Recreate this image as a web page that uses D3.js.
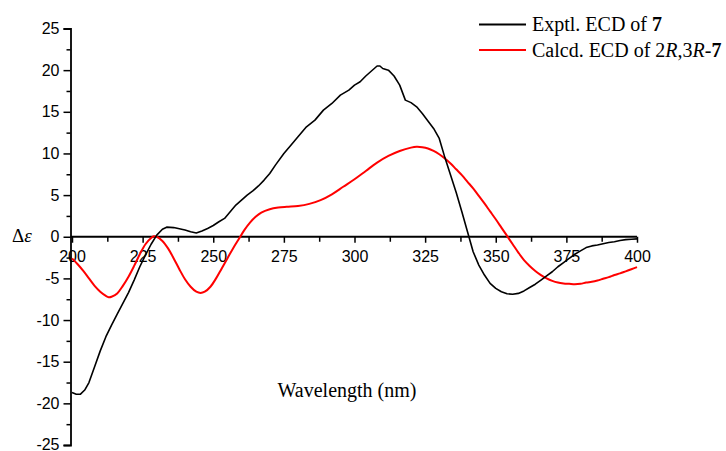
<!DOCTYPE html>
<html>
<head>
<meta charset="utf-8">
<script src="https://cdn.jsdelivr.net/npm/d3@7"></script>
<style>
html,body{margin:0;padding:0;background:#fff;}
svg{display:block;}
</style>
</head>
<body>
<svg id="chart" width="726" height="451"></svg>
<script>
// ---- data ----
const exptWavelength = [200,201.5,203,204.5,206,208,210,212,214,216,218,220,222,224,226,228,230,232,233.5,236,238,240,242,244,246,248,250,252,254,256,258,260,262,264,266,268,270,272,275,278,280,283,286,289,292,295,298,300,302,304,306,308,309,310,312,314,316,318,320,322,324,326,328,330,332,334,336,338,340,342,344,346,348,350,352,354,356,358,360,362,364,366,368,370,372,374,376,378,380,382,384,386,388,390,392,394,396,398,400];
const exptValues = [-18.7,-18.9,-18.9,-18.4,-17.5,-15.6,-13.7,-12.0,-10.6,-9.3,-8.0,-6.7,-5.2,-3.6,-2.2,-0.9,0.2,0.9,1.15,1.1,0.95,0.8,0.6,0.45,0.7,1.0,1.35,1.8,2.2,3.0,3.8,4.4,5.0,5.5,6.1,6.8,7.6,8.6,10.0,11.2,12.0,13.2,14.0,15.2,16.0,17.0,17.6,18.2,18.6,19.3,19.9,20.5,20.5,20.2,20.0,19.3,18.2,16.4,16.1,15.6,14.8,13.9,13.0,11.8,9.5,7.4,5.3,3.0,0.6,-1.8,-3.4,-4.6,-5.6,-6.2,-6.6,-6.85,-6.9,-6.8,-6.5,-6.1,-5.7,-5.2,-4.7,-4.2,-3.6,-3.1,-2.6,-2.1,-1.7,-1.3,-1.1,-1.0,-0.85,-0.7,-0.6,-0.45,-0.35,-0.3,-0.25];

const calcWavelength = [200,202,204,206,208,210,212,213,214,216,218,220,222,224,226,228,229,230,232,234,236,238,240,242,244,245.5,247,249,251,253,255,257,259,261,263,265,267,270,273,276,280,284,288,292,296,300,304,308,312,316,320,322,324,326,328,330,332,334,336,338,340,342,344,346,348,350,352,354,356,358,360,362,364,366,368,370,372,374,376,378,380,382,384,386,388,390,392,394,396,398,400];
const calcValues = [-2.6,-3.3,-4.1,-5.0,-5.9,-6.6,-7.1,-7.25,-7.2,-6.8,-5.9,-4.8,-3.5,-2.1,-0.9,-0.15,0.05,0.0,-0.5,-1.4,-2.6,-3.9,-5.1,-6.0,-6.6,-6.75,-6.6,-6.0,-5.0,-3.8,-2.6,-1.4,-0.3,0.8,1.7,2.4,2.9,3.3,3.5,3.6,3.7,3.95,4.4,5.1,6.0,6.9,7.9,8.9,9.7,10.3,10.7,10.8,10.75,10.6,10.3,9.9,9.4,8.8,8.1,7.4,6.6,5.8,4.9,4.0,3.05,2.1,1.1,0.1,-0.9,-1.9,-2.8,-3.5,-4.1,-4.6,-5.0,-5.3,-5.5,-5.6,-5.65,-5.7,-5.65,-5.5,-5.4,-5.25,-5.05,-4.85,-4.6,-4.4,-4.15,-3.9,-3.65];

const xTicks = [200,225,250,275,300,325,350,375,400];
const yTicks = [-25,-20,-15,-10,-5,0,5,10,15,20,25];

// ---- layout ----
const svg = d3.select("#chart");
const x = d3.scaleLinear().domain([200,400]).range([72,637]);
const y = d3.scaleLinear().domain([-25,25]).range([445,28.5]);
const yAxisX = 70.5;
const fmt = d => String(d);

// y axis
const yAxis = d3.axisLeft(y).tickValues(yTicks).tickSize(7).tickPadding(4).tickFormat(fmt);
const gy = svg.append("g").attr("transform",`translate(${yAxisX},0)`).call(yAxis);
gy.select(".domain").attr("stroke","#000").attr("stroke-width",1.8);
gy.selectAll(".tick line").attr("stroke","#000").attr("stroke-width",1.5);
gy.selectAll(".tick text").attr("font-family","'Liberation Sans', Arial, sans-serif").attr("font-size",16).attr("fill","#000");
gy.selectAll(".tick").filter(d=>d===-25).select("text").attr("dy","0.25em");
// minor y
const yMinor = d3.axisLeft(y).tickValues(d3.range(-22.5,25,5)).tickSize(4).tickFormat("");
const gym = svg.append("g").attr("transform",`translate(${yAxisX},0)`).call(yMinor);
gym.select(".domain").remove();
gym.selectAll(".tick line").attr("stroke","#000").attr("stroke-width",1.5);

// x axis
const xAxis = d3.axisBottom(x).tickValues(xTicks).tickSize(6).tickPadding(8).tickFormat(fmt);
const gx = svg.append("g").attr("transform",`translate(0,${y(0)})`).call(xAxis);
gx.select(".domain").attr("d",`M${yAxisX},0H${x(400)}`).attr("stroke","#000").attr("stroke-width",1.8);
gx.selectAll(".tick line").attr("stroke","#000").attr("stroke-width",1.5);
gx.selectAll(".tick text").attr("font-family","'Liberation Sans', Arial, sans-serif").attr("font-size",16).attr("fill","#000");
const xMinor = d3.axisBottom(x).tickValues(d3.range(212.5,400,25)).tickSize(5).tickFormat("");
const gxm = svg.append("g").attr("transform",`translate(0,${y(0)})`).call(xMinor);
gxm.select(".domain").remove();
gxm.selectAll(".tick line").attr("stroke","#000").attr("stroke-width",1.5);

// lines
const exptData = exptWavelength.map((w,i)=>[w,exptValues[i]]);
const calcData = calcWavelength.map((w,i)=>[w,calcValues[i]]);
const lineLin = d3.line().x(d=>x(d[0])).y(d=>y(d[1]));
const lineSmooth = d3.line().x(d=>x(d[0])).y(d=>y(d[1])).curve(d3.curveCatmullRom);
svg.append("path").datum(calcData).attr("d",lineSmooth).attr("fill","none").attr("stroke","#ff0000").attr("stroke-width",2);
svg.append("path").datum(exptData).attr("d",lineLin).attr("fill","none").attr("stroke","#000").attr("stroke-width",1.6).attr("stroke-linejoin","round");

// axis labels
svg.append("text").attr("x",12).attr("y",242).attr("font-family","'Liberation Serif', 'Times New Roman', serif").attr("font-size",19)
  .html('Δ<tspan font-style="italic">ε</tspan>');
svg.append("text").attr("x",347).attr("y",397).attr("text-anchor","middle")
  .attr("font-family","'Liberation Serif', 'Times New Roman', serif").attr("font-size",20).text("Wavelength (nm)");

// legend
const leg = svg.append("g").attr("font-family","'Liberation Serif', 'Times New Roman', serif").attr("font-size",20);
leg.append("line").attr("x1",479).attr("x2",526).attr("y1",24.5).attr("y2",24.5).attr("stroke","#000").attr("stroke-width",1.8);
leg.append("text").attr("x",532).attr("y",31).html('Exptl. ECD of <tspan font-weight="bold">7</tspan>');
leg.append("line").attr("x1",479).attr("x2",526).attr("y1",50).attr("y2",50).attr("stroke","#ff0000").attr("stroke-width",1.8);
leg.append("text").attr("x",532).attr("y",56.5).html('Calcd. ECD of 2<tspan font-style="italic">R</tspan>,3<tspan font-style="italic">R</tspan>-<tspan font-weight="bold">7</tspan>');
</script>
</body>
</html>
